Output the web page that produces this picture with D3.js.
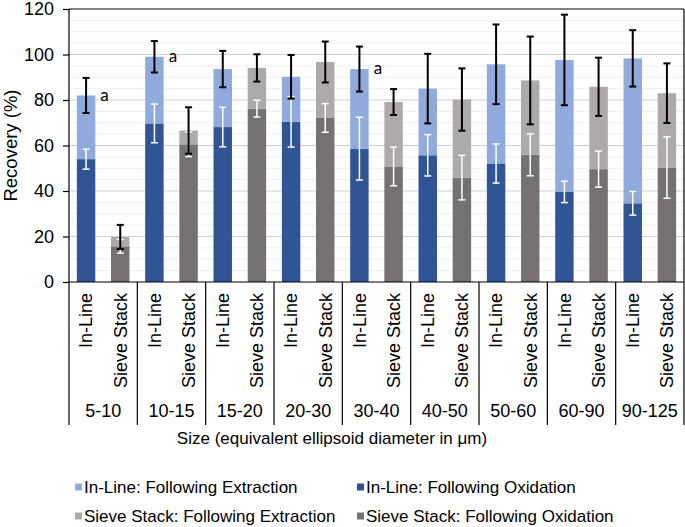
<!DOCTYPE html>
<html>
<head>
<meta charset="utf-8">
<script src="https://cdn.jsdelivr.net/npm/d3@7"></script>
<style>
  body { margin: 0; background: #fff; }
  text { font-family: "Liberation Sans", Arial, sans-serif; fill: #000; }
</style>
</head>
<body>
<script>
var categories = ["5-10", "10-15", "15-20", "20-30", "30-40", "40-50", "50-60", "60-90", "90-125"];
var methods = ["In-Line", "Sieve Stack"];

var inlineExtraction    = [82, 99, 93.6, 90.2, 93.6, 85, 95.7, 97.6, 98.3];
var inlineExtractionErr = [7.7, 6.9, 8, 9.6, 9.9, 15.3, 17.5, 19.9, 12.4];
var inlineOxidation     = [54, 69.7, 68.1, 70.4, 58.6, 55.7, 52.1, 39.6, 34.6];
var inlineOxidationErr  = [4.4, 8.5, 8.7, 11.1, 13.8, 9.1, 8.6, 4.7, 5.2];

var sieveExtraction     = [19.8, 66.6, 94.1, 96.7, 79.1, 80.2, 88.6, 85.8, 83];
var sieveExtractionErr  = [5.3, 10.2, 6, 9, 5.7, 13.7, 19.3, 12.8, 13.1];
var sieveOxidation      = [15.7, 60.5, 76.2, 72.1, 50.8, 45.9, 55.9, 49.6, 50.3];
var sieveOxidationErr   = [3, 5.4, 3.7, 6.3, 8.5, 9.8, 9.2, 7.9, 13.5];

var inlineLetters = ["a", "a", "", "", "a", "", "", "", ""];

var yTicks = [0, 20, 40, 60, 80, 100, 120];

var legendLabels = ["In-Line: Following Extraction", "In-Line: Following Oxidation",
                    "Sieve Stack: Following Extraction", "Sieve Stack: Following Oxidation"];
var colors = ["#8FAADC", "#2F5597", "#AEAAAA", "#767171"];

var margin = {top: 9, right: 1, bottom: 245, left: 69};
var W = 685, H = 527;
var width = W - margin.left - margin.right,
    height = H - margin.top - margin.bottom;

var svg = d3.select("body").append("svg")
    .attr("width", W)
    .attr("height", H);

var g = svg.append("g")
    .attr("transform", "translate(" + margin.left + "," + margin.top + ")");

var x0 = d3.scaleBand().domain(categories).range([0, width]);
var x1 = d3.scaleBand().domain(methods).range([0, x0.bandwidth()])
    .paddingInner(0.46).paddingOuter(0.23);
var y = d3.scaleLinear().domain([0, 120]).range([height, 0]);

// gridlines (minor then major)
g.append("g").selectAll("line")
    .data(d3.range(5, 120, 5).filter(function(v){ return v % 20 != 0; }))
    .enter().append("line")
    .attr("x1", 0).attr("x2", width)
    .attr("y1", function(d){ return y(d); }).attr("y2", function(d){ return y(d); })
    .attr("stroke", "#EFEFEF").attr("stroke-width", 1);

g.append("g").selectAll("line")
    .data(yTicks.slice(1, -1))
    .enter().append("line")
    .attr("x1", 0).attr("x2", width)
    .attr("y1", function(d){ return y(d); }).attr("y2", function(d){ return y(d); })
    .attr("stroke", "#D0D0D0").attr("stroke-width", 1);

// build rows
var rows = [];
categories.forEach(function(c, i){
    rows.push({cat: c, method: "In-Line", ext: inlineExtraction[i], extErr: inlineExtractionErr[i],
        ox: inlineOxidation[i], oxErr: inlineOxidationErr[i], letter: inlineLetters[i], c1: colors[0], c2: colors[1]});
    rows.push({cat: c, method: "Sieve Stack", ext: sieveExtraction[i], extErr: sieveExtractionErr[i],
        ox: sieveOxidation[i], oxErr: sieveOxidationErr[i], letter: "", c1: colors[2], c2: colors[3]});
});

function bx(d){ return x0(d.cat) + x1(d.method); }
var bw = x1.bandwidth();

var bars = g.append("g").selectAll("g")
    .data(rows)
    .enter().append("g");

bars.append("rect")
    .attr("x", bx)
    .attr("width", bw)
    .attr("y", function(d){ return y(d.ox); })
    .attr("height", function(d){ return y(0) - y(d.ox); })
    .attr("fill", function(d){ return d.c2; });

bars.append("rect")
    .attr("x", bx)
    .attr("width", bw)
    .attr("y", function(d){ return y(d.ext); })
    .attr("height", function(d){ return y(d.ox) - y(d.ext); })
    .attr("fill", function(d){ return d.c1; });

function errorBar(sel, val, err, col, sw){
    var cap = 3.5;
    sel.append("line")
        .attr("x1", function(d){ return bx(d) + bw / 2; })
        .attr("x2", function(d){ return bx(d) + bw / 2; })
        .attr("y1", function(d){ return y(d[val] + d[err]); })
        .attr("y2", function(d){ return y(d[val] - d[err]); })
        .attr("stroke", col).attr("stroke-width", sw);
    [1, -1].forEach(function(s){
        sel.append("line")
            .attr("x1", function(d){ return bx(d) + bw / 2 - cap; })
            .attr("x2", function(d){ return bx(d) + bw / 2 + cap; })
            .attr("y1", function(d){ return y(d[val] + s * d[err]); })
            .attr("y2", function(d){ return y(d[val] + s * d[err]); })
            .attr("stroke", col).attr("stroke-width", sw);
    });
}
errorBar(bars, "ox", "oxErr", "#fff", 1.5);
errorBar(bars, "ext", "extErr", "#000", 2);

bars.filter(function(d){ return d.letter; })
    .append("text")
    .attr("x", function(d){ return bx(d) + bw + 5; })
    .attr("y", function(d){ return y(d.ext); })
    .attr("dy", "0.3em")
    .style("font-family", "Lato, sans-serif")
    .style("font-size", "17px")
    .text(function(d){ return d.letter; });

// frame
var axisBottom = 416;
g.append("line").attr("x1", 0).attr("x2", width).attr("y1", 0).attr("y2", 0)
    .attr("stroke", "#000").attr("stroke-width", 1.2);
g.append("line").attr("x1", 0).attr("x2", width).attr("y1", y(0)).attr("y2", y(0))
    .attr("stroke", "#000").attr("stroke-width", 1.2);
g.append("line").attr("x1", 0).attr("x2", 0).attr("y1", 0).attr("y2", axisBottom)
    .attr("stroke", "#000").attr("stroke-width", 1.2);
g.append("line").attr("x1", width).attr("x2", width).attr("y1", 0).attr("y2", axisBottom)
    .attr("stroke", "#000").attr("stroke-width", 1.2);

// category separators
g.append("g").selectAll("line")
    .data(categories.slice(1))
    .enter().append("line")
    .attr("x1", function(d){ return x0(d); }).attr("x2", function(d){ return x0(d); })
    .attr("y1", y(0)).attr("y2", axisBottom)
    .attr("stroke", "#000").attr("stroke-width", 1.2);

// y axis with outward ticks
var yAxis = d3.axisLeft(y).tickValues(yTicks).tickSize(6).tickPadding(9);
var ya = g.append("g").call(yAxis);
ya.select(".domain").remove();
ya.selectAll(".tick line").attr("stroke", "#000").attr("stroke-width", 1.2);
ya.selectAll("text")
    .style("font-size", "18px")
    .style("font-family", "Liberation Sans, Arial, sans-serif");

// method labels (rotated)
g.append("g").selectAll("text")
    .data(rows)
    .enter().append("text")
    .attr("transform", function(d){
        return "translate(" + (bx(d) + bw / 2) + "," + (y(0) + 11) + ") rotate(-90)";
    })
    .attr("text-anchor", "end")
    .attr("dy", "0.35em")
    .style("font-size", "18px")
    .text(function(d){ return d.method; });

// size labels
g.append("g").selectAll("text")
    .data(categories)
    .enter().append("text")
    .attr("x", function(d){ return x0(d) + x0.bandwidth() / 2; })
    .attr("y", 402)
    .attr("dy", "0.35em")
    .attr("text-anchor", "middle")
    .style("font-size", "18px")
    .text(function(d){ return d; });

// axis titles
svg.append("text")
    .attr("x", 332).attr("y", 438)
    .attr("dy", "0.35em")
    .attr("text-anchor", "middle")
    .style("font-size", "17px")
    .text("Size (equivalent ellipsoid diameter in μm)");

svg.append("text")
    .attr("transform", "translate(11," + (margin.top + height / 2) + ") rotate(-90)")
    .attr("text-anchor", "middle")
    .attr("dy", "0.35em")
    .style("font-size", "18.5px")
    .text("Recovery (%)");

// legend
var legendPos = [[75, 487], [357, 487], [75, 516], [357, 516]];
var legend = svg.append("g").selectAll("g")
    .data(legendLabels)
    .enter().append("g")
    .attr("transform", function(d, i){ return "translate(" + legendPos[i][0] + "," + legendPos[i][1] + ")"; });

legend.append("rect")
    .attr("x", 0).attr("y", -3.5)
    .attr("width", 7).attr("height", 7)
    .attr("fill", function(d, i){ return colors[i]; });

legend.append("text")
    .attr("x", 9)
    .attr("dy", "0.35em")
    .style("font-size", "17px")
    .text(function(d){ return d; });
</script>
</body>
</html>
